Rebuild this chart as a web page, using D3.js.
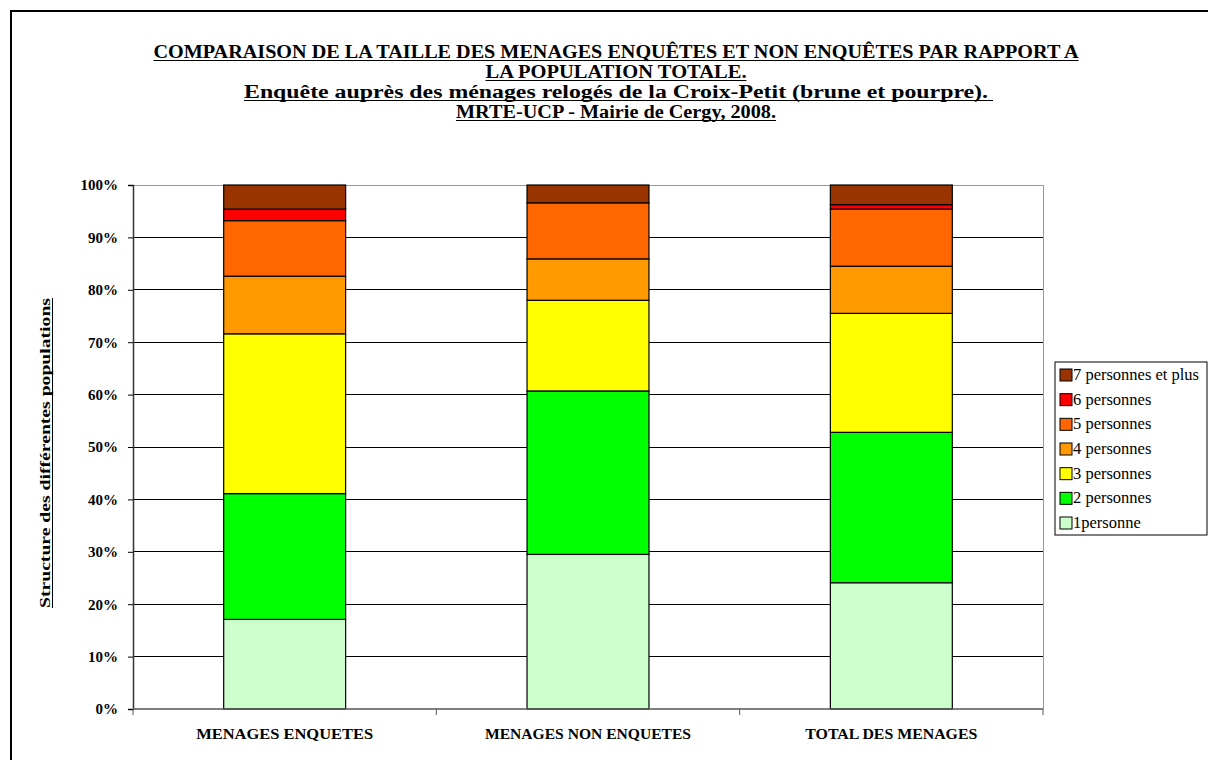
<!DOCTYPE html>
<html>
<head>
<meta charset="utf-8">
<script src="https://cdn.jsdelivr.net/npm/d3@7"></script>
<style>
  html, body { margin: 0; padding: 0; background: #fff; }
  svg { display: block; }
  text { font-family: "Liberation Serif", "Times New Roman", serif; }
</style>
</head>
<body>
<svg id="chart" width="1208" height="760"></svg>
<script>
// ---- Data ----
const categories = ["MENAGES ENQUETES", "MENAGES NON ENQUETES", "TOTAL DES MENAGES"];
const seriesNames = ["1personne", "2 personnes", "3 personnes", "4 personnes", "5 personnes", "6 personnes", "7 personnes et plus"];
const seriesColors = ["#CCFFCC", "#00FF00", "#FFFF00", "#FF9900", "#FF6600", "#FF0000", "#993300"];
// percentages per category, in series order
const s1personne = [17.1, 29.5, 24.1];
const s2personnes = [24.0, 31.2, 28.7];
const s3personnes = [30.5, 17.3, 22.7];
const s4personnes = [11.0, 7.9, 9.0];
const s5personnes = [10.6, 10.7, 10.9];
const s6personnes = [2.2, 0.0, 0.85];
const s7personnes = [4.6, 3.4, 3.75];
const yTicks = [0, 0.1, 0.2, 0.3, 0.4, 0.5, 0.6, 0.7, 0.8, 0.9, 1.0];
const titleLines = [
  "COMPARAISON DE LA TAILLE DES MENAGES ENQUÊTES ET NON ENQUÊTES PAR RAPPORT A",
  "LA POPULATION TOTALE.",
  "Enquête auprès des ménages relogés de la Croix-Petit (brune et pourpre).",
  "MRTE-UCP - Mairie de Cergy, 2008."
];
const yTitle = "Structure des différentes populations";

// ---- Build table ----
const allSeries = [s1personne, s2personnes, s3personnes, s4personnes, s5personnes, s6personnes, s7personnes];
const table = categories.map((c, i) => {
  const row = { cat: c };
  seriesNames.forEach((s, j) => row[s] = allSeries[j][i]);
  return row;
});
table.forEach(r => {
  const tot = d3.sum(seriesNames, s => r[s]);
  seriesNames.forEach(s => r[s] = r[s] / tot);
});
const stacked = d3.stack().keys(seriesNames)(table);

const svg = d3.select("#chart");

// outer border
svg.append("rect").attr("x", 11).attr("y", 11).attr("width", 1400).attr("height", 1000)
  .attr("fill", "none").attr("stroke", "#000").attr("stroke-width", 2);

const plot = { left: 133, right: 1043, top: 185, bottom: 709 };
const x = d3.scaleBand().domain(categories).range([plot.left, plot.right]).paddingInner(0.598).paddingOuter(0.299);
const y = d3.scaleLinear().domain([0, 1]).range([plot.bottom, plot.top]);

// gridlines
svg.append("g").selectAll("line").data(yTicks.filter(t => t > 0)).join("line")
  .attr("x1", plot.left).attr("x2", plot.right)
  .attr("y1", d => y(d)).attr("y2", d => y(d))
  .attr("stroke", (d) => d === 1 ? "#999" : "#000").attr("stroke-width", 1)
  .attr("shape-rendering", "crispEdges");

// plot right border
svg.append("line").attr("x1", plot.right).attr("x2", plot.right).attr("y1", plot.top).attr("y2", plot.bottom)
  .attr("stroke", "#999").attr("shape-rendering", "crispEdges");

// bars
svg.append("g").selectAll("g").data(stacked).join("g")
  .attr("fill", (d, i) => seriesColors[i])
  .selectAll("rect").data(d => d.map(v => ({ v, key: d.key }))).join("rect")
  .attr("x", d => x(d.v.data.cat))
  .attr("width", x.bandwidth())
  .attr("y", d => y(d.v[1]))
  .attr("height", d => Math.max(0, y(d.v[0]) - y(d.v[1])))
  .attr("stroke", "#000").attr("stroke-width", 1.2)
  .attr("display", d => (d.v[1] - d.v[0]) > 0 ? null : "none");

// y axis
const yAxis = svg.append("g").attr("transform", `translate(${plot.left},0)`)
  .call(d3.axisLeft(y).tickValues(yTicks).tickFormat(d3.format(".0%")).tickSize(5).tickPadding(10));
yAxis.select(".domain").attr("stroke", "#333").attr("stroke-width", 1.5);
yAxis.selectAll(".tick line").attr("stroke", "#000");
yAxis.selectAll("text").attr("font-size", 15).attr("font-weight", "bold").attr("fill", "#000")
  .attr("font-family", "'Liberation Serif', serif");

// x axis
const xAxisG = svg.append("g").attr("transform", `translate(0,${plot.bottom})`);
xAxisG.append("line").attr("x1", plot.left).attr("x2", plot.right).attr("y1", 0).attr("y2", 0)
  .attr("stroke", "#555").attr("stroke-width", 1.5);
const bounds = [plot.left, ...categories.slice(1).map(c => x(c) - x.step() * x.paddingInner() / 2), plot.right];
xAxisG.selectAll("line.t").data(bounds).join("line").attr("class", "t")
  .attr("x1", d => d).attr("x2", d => d).attr("y1", 0).attr("y2", 6).attr("stroke", "#555");
const xLabelW = [177, 206, 172];
xAxisG.selectAll("text").data(categories).join("text")
  .attr("x", d => x(d) + x.bandwidth() / 2).attr("y", 30)
  .attr("text-anchor", "middle").attr("font-size", 15).attr("font-weight", "bold")
  .attr("textLength", (d, i) => xLabelW[i]).attr("lengthAdjust", "spacingAndGlyphs")
  .text(d => d);

// title
const titleY = [58, 78, 98, 118];
const titleW = [925, 261, 744, 320];
titleLines.forEach((t, i) => {
  svg.append("text").attr("x", 616).attr("y", titleY[i]).attr("text-anchor", "middle")
    .attr("font-size", 18).attr("font-weight", "bold")
    .attr("textLength", titleW[i]).attr("lengthAdjust", "spacingAndGlyphs")
    .text(t);
  svg.append("line").attr("x1", 616 - titleW[i] / 2).attr("x2", 616 + titleW[i] / 2 + (i === 2 ? 5 : 0))
    .attr("y1", titleY[i] + 2.5).attr("y2", titleY[i] + 2.5).attr("stroke", "#000").attr("stroke-width", 1.2);
});

// y title
const ytW = 310;
const ytG = svg.append("g").attr("transform", "translate(50,453) rotate(-90)");
ytG.append("text").attr("x", 0).attr("y", 0).attr("text-anchor", "middle")
  .attr("font-size", 14).attr("font-weight", "bold")
  .attr("textLength", ytW).attr("lengthAdjust", "spacingAndGlyphs").text(yTitle);
ytG.append("line").attr("x1", -ytW / 2).attr("x2", ytW / 2).attr("y1", 2.5).attr("y2", 2.5)
  .attr("stroke", "#000").attr("stroke-width", 1);

// legend
const leg = svg.append("g");
leg.append("rect").attr("x", 1055).attr("y", 362).attr("width", 152).attr("height", 173)
  .attr("fill", "#fff").attr("stroke", "#000").attr("stroke-width", 1);
const legOrder = seriesNames.map((s, i) => ({ s, c: seriesColors[i] })).reverse();
const ly = d3.scalePoint().domain(legOrder.map(d => d.s)).range([375, 523]);
const items = leg.selectAll("g.it").data(legOrder).join("g").attr("class", "it")
  .attr("transform", d => `translate(1060,${ly(d.s)})`);
items.append("rect").attr("x", 0).attr("y", -6).attr("width", 12).attr("height", 12)
  .attr("fill", d => d.c).attr("stroke", "#000").attr("stroke-width", 1);
items.append("text").attr("x", 13).attr("y", 5).attr("font-size", 16.5).text(d => d.s);
</script>
</body>
</html>
